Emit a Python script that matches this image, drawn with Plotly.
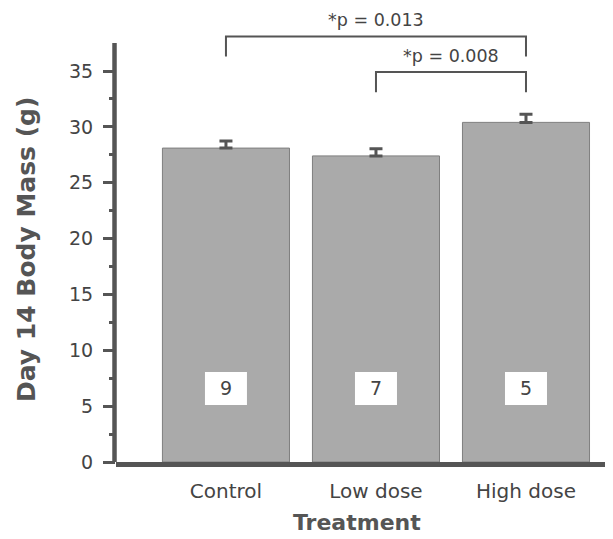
import plotly.graph_objects as go

categories = ["Control", "Low dose", "High dose"]
mass_mean = [28.1, 27.4, 30.4]
mass_err = [0.63, 0.63, 0.72]
n_animals = ["9", "7", "5"]
y_ticks = [0, 5, 10, 15, 20, 25, 30, 35]
y_minor = [2.5, 7.5, 12.5, 17.5, 22.5, 27.5, 32.5]
comparisons = [(0, 2, "*p = 0.013"), (1, 2, "*p = 0.008")]
bracket_levels = [38.1, 34.9]

FONT = "DejaVu Sans"
AX = "#555555"

fig = go.Figure()
fig.add_trace(go.Bar(
    x=categories, y=mass_mean, width=0.847,
    marker=dict(color="#aaaaaa", line=dict(color="#7f7f7f", width=1)),
    error_y=dict(type="data", symmetric=False, array=mass_err,
                 arrayminus=[0] * len(mass_err), color=AX, thickness=3, width=6.5),
    showlegend=False, hoverinfo="skip",
))

shapes = []
annotations = []
# y axis line drawn as a shape so that it stops above the 35 tick
shapes.append(dict(type="line", xref="paper", yref="y", x0=-0.003, x1=-0.003,
                   y0=0, y1=37.5, line=dict(color=AX, width=4.5)))
# count boxes
for i, n in enumerate(n_animals):
    shapes.append(dict(type="rect", xref="x", yref="y", x0=i - 0.14, x1=i + 0.14,
                       y0=5.1, y1=8.05, fillcolor="white", line=dict(width=0)))
    annotations.append(dict(x=i, y=6.6, xref="x", yref="y", text=n, showarrow=False,
                            font=dict(family=FONT, size=19, color="#444444")))
# significance brackets
for (a, b, label), lvl in zip(comparisons, bracket_levels):
    shapes.append(dict(type="path", xref="x", yref="y",
                       path=f"M {a},{lvl - 1.8} L {a},{lvl} L {b},{lvl} L {b},{lvl - 1.8}",
                       line=dict(color=AX, width=2)))
    annotations.append(dict(x=(a + b) / 2, y=lvl + 1.45, xref="x", yref="y", text=label,
                            showarrow=False, yanchor="middle",
                            font=dict(family=FONT, size=17.5, color="#444444")))

annotations.append(dict(x=0.485, y=-0.134, xref="paper", yref="paper", text="<b>Treatment</b>",
                        showarrow=False, yanchor="middle",
                        font=dict(family=FONT, size=22, color=AX)))
annotations.append(dict(x=-0.179, y=0.467, xref="paper", yref="paper",
                        text="<b>Day 14 Body Mass (g)</b>", textangle=-90,
                        showarrow=False, xanchor="center", yanchor="middle",
                        font=dict(family=FONT, size=25, color=AX)))

fig.update_layout(
    width=605, height=531,
    margin=dict(l=108, r=0, t=0, b=77),
    paper_bgcolor="white", plot_bgcolor="white",
    shapes=shapes, annotations=annotations,
    xaxis=dict(range=[-0.733, 2.58], showline=True, linecolor=AX, linewidth=5,
               ticks="", showgrid=False, zeroline=False, ticklabelstandoff=7,
               tickfont=dict(family=FONT, size=20, color="#444444")),
    yaxis=dict(range=[0, 40.64], showline=False, showgrid=False, zeroline=False,
               tickvals=y_ticks, ticks="outside", ticklen=12, tickwidth=2.5, tickcolor=AX,
               ticklabelstandoff=6,
               minor=dict(tickvals=y_minor, ticks="outside", ticklen=6, tickwidth=2.5,
                          tickcolor=AX, showgrid=False),
               tickfont=dict(family=FONT, size=19, color="#444444")),
)

fig.write_html("out.html")
